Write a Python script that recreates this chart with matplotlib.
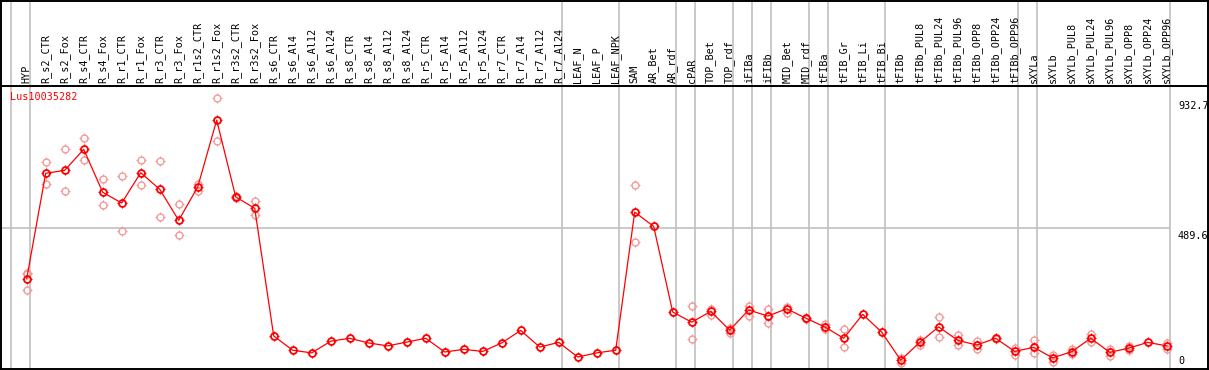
import numpy as np
import matplotlib
matplotlib.use("Agg")
import matplotlib.pyplot as plt
from matplotlib.path import Path

# category names (one column each)
categories = [
    "HYP",
    "R_s2_CTR", "R_s2_Fox", "R_s4_CTR", "R_s4_Fox", "R_r1_CTR", "R_r1_Fox",
    "R_r3_CTR", "R_r3_Fox", "R_r1s2_CTR", "R_r1s2_Fox", "R_r3s2_CTR", "R_r3s2_Fox",
    "R_s6_CTR", "R_s6_Al4", "R_s6_Al12", "R_s6_Al24",
    "R_s8_CTR", "R_s8_Al4", "R_s8_Al12", "R_s8_Al24",
    "R_r5_CTR", "R_r5_Al4", "R_r5_Al12", "R_r5_Al24",
    "R_r7_CTR", "R_r7_Al4", "R_r7_Al12", "R_r7_Al24",
    "LEAF_N", "LEAF_P", "LEAF_NPK",
    "SAM", "AR_Bet", "AR_rdf", "cPAR", "TOP_Bet", "TOP_rdf", "iFIBa", "iFIBb",
    "MID_Bet", "MID_rdf", "tFIBa", "tFIB_Gr", "tFIB_Li", "tFIB_Bi",
    "tFIBb", "tFIBb_PUL8", "tFIBb_PUL24", "tFIBb_PUL96",
    "tFIBb_OPP8", "tFIBb_OPP24", "tFIBb_OPP96",
    "sXYLa", "sXYLb", "sXYLb_PUL8", "sXYLb_PUL24", "sXYLb_PUL96",
    "sXYLb_OPP8", "sXYLb_OPP24", "sXYLb_OPP96",
]

# number of columns in each separated group
group_sizes = [1, 28, 3, 3, 1, 2, 1, 1, 2, 1, 3, 7, 1, 7]

# mean expression per category
means = [
    315, 676, 686, 758, 611, 574, 678, 621, 515, 629, 858, 595, 556,
    119, 70, 61, 101, 111, 95, 85, 98, 111, 64, 73, 66, 95, 138, 81, 97,
    47, 61, 70,
    543, 494, 201, 166, 203, 139, 208, 187, 212, 180, 150, 111, 193, 132,
    36, 97, 150, 104, 88, 111, 66,
    80, 44, 65, 111, 63, 77, 97, 85,
]

# visible replicate values per category
replicates = [
    [336, 330, 276],
    [714, 638], [758, 614], [796, 721], [655, 567], [665, 480], [720, 636],
    [717, 525], [570, 463], [639, 615], [933, 785], [597, 590], [581, 532],
    [], [], [], [], [], [], [], [], [], [], [], [], [], [], [], [],
    [], [], [],
    [636, 440], [], [], [220, 108], [210, 190], [147, 130], [222, 188], [210, 164],
    [218, 199], [182, 176], [160, 142], [142, 82], [], [],
    [42, 28], [105, 89], [184, 114], [121, 89], [100, 75], [113, 108], [78, 53],
    [104, 59], [55, 30], [73, 57], [124, 99], [75, 50], [84, 70], [], [96, 73],
]

gene = "Lus10035282"
y_ticks = [932.7, 489.6, 0]

RED = "#ff0000"
PINK = "#f29a9a"
GRAY = "#c0c0c0"
FONT = "DejaVu Sans Mono"
FS = 7.3

W, H = 1209, 370
fig = plt.figure(figsize=(W / 100, H / 100), dpi=100)

# pixel layout
top_sep = 86      # line under the labels
x0_px, step_px = 26.7, 19.0
left_px, right_px, bottom_px = 1, 1208, 369

def xdata(px):
    return (px - x0_px) / step_px

xlim = (xdata(left_px), xdata(right_px))
scale = 3.424  # value per pixel
def vdata(py):
    return (370.7 - py) * scale

ax = fig.add_axes([left_px / W, (H - bottom_px) / H, (right_px - left_px) / W,
                   (bottom_px - top_sep) / H])
ax_lab = fig.add_axes([left_px / W, (H - top_sep) / H, (right_px - left_px) / W,
                       (top_sep - 0.5) / H])

ax.set_xlim(*xlim)
ax.set_ylim(vdata(bottom_px), vdata(top_sep))
ax_lab.set_xlim(*xlim)
ax_lab.set_ylim(0, 1)
for a in (ax, ax_lab):
    a.set_xticks([])
    a.set_yticks([])
    for s in a.spines.values():
        s.set_color("black")
        s.set_linewidth(1.4)

# group separators
seps = [-1 + 0.19] + list(np.cumsum(group_sizes) - 1 + 0.19)
for s in seps:
    ax.axvline(s, color=GRAY, lw=1.2, zorder=0)
    ax_lab.axvline(s, color=GRAY, lw=1.2, zorder=0)

ax.hlines(489.6, xlim[0], seps[-1], color=GRAY, lw=1.2, zorder=0)

# marker with little ticks outside the circle
r0, r1 = 0.7, 1.0
tick_path = Path([(0, r0), (0, r1), (0, -r0), (0, -r1),
                  (r0, 0), (r1, 0), (-r0, 0), (-r1, 0)],
                 [Path.MOVETO, Path.LINETO] * 4)

xs = np.arange(len(categories))
rx = [i for i, r in enumerate(replicates) for _ in r]
ry = [v for r in replicates for v in r]
ax.plot(rx, ry, ls="none", marker="o", ms=5.0, mfc="none", mec=PINK, mew=1.0, zorder=2)
ax.plot(rx, ry, ls="none", marker=tick_path, ms=7.0, mec=PINK, mew=0.8, zorder=2)

ax.plot(xs, means, color=RED, lw=0.9, zorder=3)
ax.plot(xs, means, ls="none", marker="o", ms=5.0, mfc="none", mec=RED, mew=1.3, zorder=4)
ax.plot(xs, means, ls="none", marker=tick_path, ms=7.0, mec=RED, mew=0.8, zorder=4)

# gene name
ax.text(xdata(10), vdata(97), gene, color=RED, fontsize=FS, family=FONT,
        ha="left", va="center")

# value labels on the right
for v in y_ticks:
    if v == 0:
        ax.text(xdata(1178), vdata(366), "0", fontsize=FS, family=FONT,
                ha="left", va="bottom")
    else:
        ax.text(xdata(1178), v - 3 * scale, f"{v:.1f}", fontsize=FS,
                family=FONT, ha="left", va="top")

# column labels
for i, name in enumerate(categories):
    ax_lab.text(i, 0.04, name, rotation=90, fontsize=FS, family=FONT,
                ha="center", va="bottom")

fig.savefig("out.png", dpi=100)
